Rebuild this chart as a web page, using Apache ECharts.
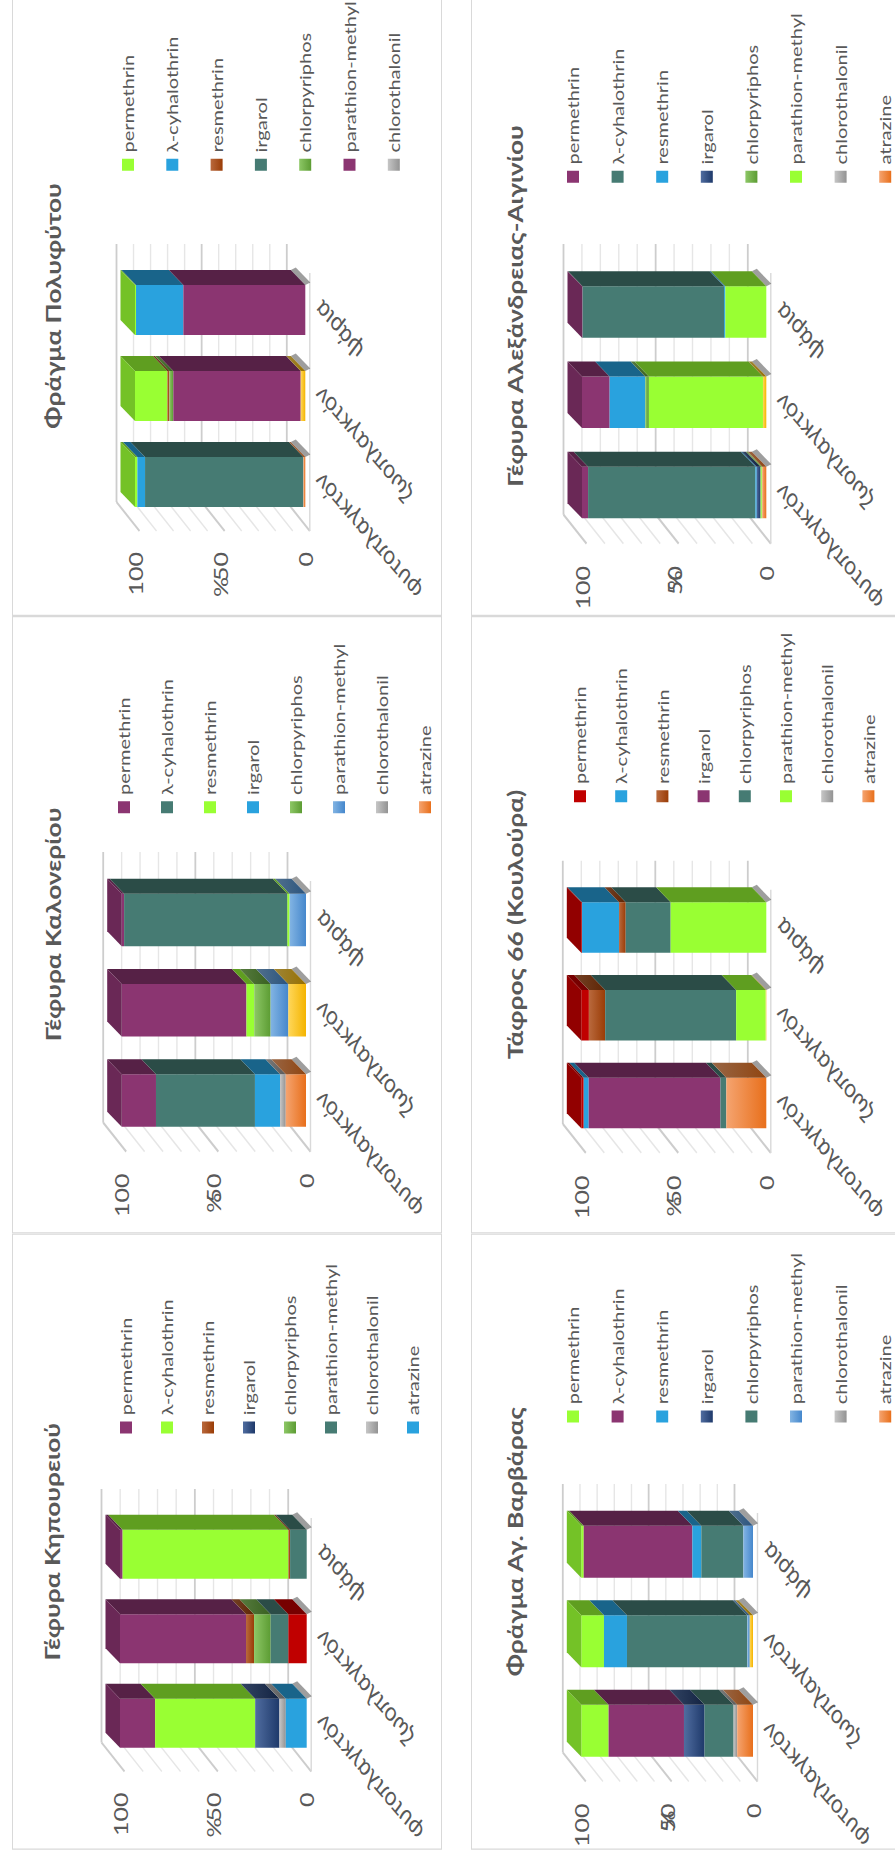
<!DOCTYPE html>
<html>
<head>
<meta charset="utf-8">
<script src="https://cdn.jsdelivr.net/npm/echarts@6.0.0/dist/echarts.min.js"></script>
<style>
  html, body { margin: 0; padding: 0; background: #fff; overflow: hidden; width: 895px; height: 1861px; }
  #sheet { position: absolute; left: 0; top: 0; height: 895px; transform-origin: 0 0; }
  .panel { position: absolute; box-sizing: border-box; border: 1px solid #d9d9d9; background: #fff; }
</style>
</head>
<body>
<div id="sheet"></div>
<script>
// ---- data -------------------------------------------------------------
const categories = ['φυτοπλαγκτόν', 'ζωοπλαγκτόν', 'ψάρια'];
const compounds = ['permethrin', 'λ-cyhalothrin', 'resmethrin', 'irgarol', 'chlorpyriphos',
                   'parathion-methyl', 'chlorothalonil', 'atrazine'];
const unlisted = 'other';
const valueTicks = [0, 50, 100];
const gridValues = [0, 10, 20, 30, 40, 50, 60, 70, 80, 90, 100];
const titles = ['Γέφυρα Κηπουρειού', 'Γέφυρα Καλονερίου', 'Φράγμα Πολυφύτου',
                'Φράγμα Αγ. Βαρβάρας', 'Τάφρος 66 (Κουλούρα)', 'Γέφυρα Αλεξάνδρειας-Αιγινίου'];

// shares (%) per compound; columns follow `categories`; last row is the unlisted compound
const kipoureiou = [
  [18.8, 67.5, 1.4], [53.6, 0, 88.8], [0, 4.3, 0.9], [13.0, 0, 0], [0, 8.9, 0],
  [0, 9.5, 8.9], [3.4, 0, 0], [11.2, 0, 0], [0, 9.8, 0]
];
const kalonerio = [
  [18.6, 67.7, 1.3], [53.7, 0, 88.6], [0, 4.2, 1.2], [13.6, 0, 0], [0, 8.9, 0],
  [0, 9.6, 8.9], [3.1, 0, 0], [11.0, 0, 0], [0, 9.6, 0]
];
const polyfyto = [
  [1.4, 19.0, 0.6], [4.5, 0, 27.8], [0, 1.2, 0], [93.0, 0, 0], [0, 2.3, 0],
  [0, 74.8, 71.6], [0, 0, 0], [1.1, 0, 0], [0, 2.7, 0]
];
const agBarbara = [
  [15.9, 13.2, 1.4], [43.9, 0, 63.3], [0, 13.4, 5.2], [12.0, 0, 0], [16.9, 70.1, 24.5],
  [0, 1.4, 5.6], [2.1, 0, 0], [9.2, 0, 0], [0, 1.9, 0]
];
const tafros66 = [
  [1.3, 4.1, 0.4], [2.7, 0, 20.0], [0, 8.8, 3.6], [71.2, 0, 0], [3.2, 70.8, 24.3],
  [0, 16.0, 51.7], [0, 0, 0], [21.6, 0, 0], [0, 0.3, 0]
];
const aleksandreia = [
  [3.3, 15.0, 0.3], [90.8, 0, 76.8], [0.7, 19.3, 0.7], [2.0, 0, 0], [0.5, 2.0, 0],
  [0.5, 61.9, 22.2], [0, 0, 0], [2.2, 0, 0], [0, 1.8, 0]
];
const panelValues = [kipoureiou, kalonerio, polyfyto, agBarbara, tafros66, aleksandreia];

// ---- styles -----------------------------------------------------------
const K = 1.25;                       // horizontal stretch of the whole sheet
const FONT = "Lato, 'Open Sans', 'Noto Sans', sans-serif";
const TEXT = '#595959';
const DEPTH = { x: 15, y: -14.5 };    // bar depth (oblique projection)
const WALL = { x: 23, y: -18.5 };     // back wall offset from bar fronts
const FRONT = { x: -6, y: 4.5 };      // floor / side-wall front edge offset
const CAT_SHIFT = 4;                  // category label anchor: right of the bar centre
const CAT_DROP = 12;                  // ... and below the floor
const CAT_ROTATE = 47;
const CAT_SIZE = 21;

const palette = {
  magenta: '#8B3571', lime: '#99FF33', teal: '#467B73', blue: '#29A2DE', red: '#C00000',
  brown: ['#B9693D', '#9A3C06'], navy: ['#506DA0', '#1E396A'], green: ['#8DC766', '#5C9C33'],
  gray: ['#C6C6C6', '#939393'], orange: ['#F5A470', '#E86F1B'], yellow: ['#FFD75A', '#F4B400'],
  skyblue: ['#82B4E3', '#4587CC']
};
const panelColors = [
  ['magenta', 'lime', 'brown', 'navy', 'green', 'teal', 'gray', 'blue', 'red'],
  ['magenta', 'teal', 'lime', 'blue', 'green', 'skyblue', 'gray', 'orange', 'yellow'],
  ['lime', 'blue', 'brown', 'teal', 'green', 'magenta', 'gray', 'orange', 'yellow'],
  ['lime', 'magenta', 'blue', 'navy', 'teal', 'skyblue', 'gray', 'orange', 'yellow'],
  ['red', 'blue', 'brown', 'magenta', 'teal', 'lime', 'gray', 'orange', 'yellow'],
  ['magenta', 'teal', 'blue', 'navy', 'green', 'lime', 'gray', 'orange', 'yellow']
];

// panel geometry in sheet pixels (x along the category direction)
const panelLayout = [
  { x0: 11,   y0: 12,  w: 616, c0: 126.5, step: 84.5,  bw: 49,   y100: 108,   yZero: 294.7, legX: 410, legY: 103, legStep: 41,   titleY: 35.5, labelGap: 27,   pctGap: 62 },
  { x0: 627,  y0: 12,  w: 618, c0: 133,   step: 90.25, bw: 52.5, y100: 109.7, yZero: 294,   legX: 414, legY: 101, legStep: 43,   titleY: 36.5, labelGap: 28,   pctGap: 57 },
  { x0: 1245, y0: 12,  w: 620, c0: 134,   step: 86,    bw: 50,   y100: 123,   yZero: 293.3, legX: 439, legY: 105, legStep: 44.3, titleY: 36.5, labelGap: 27,   pctGap: 62 },
  { x0: 11,   y0: 471, w: 616, c0: 119,   step: 89.5,  bw: 52,   y100: 110.3, yZero: 282,   legX: 421, legY: 91,  legStep: 44.6, titleY: 38.7, labelGap: 28,   pctGap: 45 },
  { x0: 627,  y0: 471, w: 618, c0: 130.5, step: 87.75, bw: 50.5, y100: 110.3, yZero: 295.3, legX: 425, legY: 98,  legStep: 41.2, titleY: 39,   labelGap: 28.6, pctGap: 59.6 },
  { x0: 1245, y0: 471, w: 620, c0: 123.5, step: 90.25, bw: 51.5, y100: 111,   yZero: 295.3, legX: 427, legY: 91,  legStep: 44.6, titleY: 39,   labelGap: 28.5, pctGap: 42.5 }
];
const PANEL_H = 430;

// ---- helpers ----------------------------------------------------------
function shade(hex, f) {
  const n = parseInt(hex.slice(1), 16);
  const r = Math.round(((n >> 16) & 255) * f), g = Math.round(((n >> 8) & 255) * f), b = Math.round((n & 255) * f);
  return '#' + ((1 << 24) + (r << 16) + (g << 8) + b).toString(16).slice(1);
}
function paint(key, f) {
  const c = palette[key];
  if (Array.isArray(c)) {
    return { type: 'linear', x: 0, y: 0, x2: 0, y2: 1,
             colorStops: [{ offset: 0, color: shade(c[0], f) }, { offset: 1, color: shade(c[1], f) }] };
  }
  return shade(c, f);
}

// stacking from the floor upwards: unlisted, atrazine, ..., permethrin
const stackOrder = [8, 7, 6, 5, 4, 3, 2, 1, 0];

function buildSegments(values) {
  const segs = values.map(() => []);
  categories.forEach((_, i) => {
    const total = values.reduce((s, row) => s + row[i], 0);
    let cum = 0, last = null, first = true;
    stackOrder.forEach(r => {
      const v = values[r][i];
      if (v <= 0) return;
      const item = [i, cum / total * 100, (cum + v) / total * 100, first ? 2 : 0];
      segs[r].push(item);
      last = item; first = false;
      cum += v;
    });
    if (last) last[3] |= 1;
  });
  return segs;
}

function wallRenderer() {
  return function (params, api) {
    const v = api.value(1);
    const pa = api.coord([0, v]);
    const pb = api.coord([2, v]);
    const band = api.size([1, 0])[0];
    const xs = pa[0] - band / 2, xe = pb[0] + band / 2, y = pa[1];
    const major = v % 50 === 0;
    const style = { stroke: major ? '#cdcdcd' : '#e6e6e6', lineWidth: major ? 1.8 : 1.4, fill: null };
    const wx = WALL.x / K, wy = WALL.y, fx = FRONT.x / K, fy = FRONT.y;
    const children = [
      { type: 'line', shape: { x1: xs + wx, y1: y + wy, x2: xe + wx, y2: y + wy }, style },
      { type: 'line', shape: { x1: xs + wx, y1: y + wy, x2: xs + fx, y2: y + fy }, style }
    ];
    if (v === 0) {
      children.push({ type: 'line', shape: { x1: xs + fx, y1: y + fy, x2: xe + fx, y2: y + fy },
                      style: { stroke: '#d9d9d9', lineWidth: 1.4, fill: null } });
    }
    return { type: 'group', children };
  };
}

function barRenderer(key, ratio) {
  const front = paint(key, 1), side = paint(key, 0.62), top = paint(key, 0.76);
  return function (params, api) {
    const cat = api.value(0), lo = api.value(1), hi = api.value(2), flags = api.value(3);
    const pLo = api.coord([cat, lo]);
    const pHi = api.coord([cat, hi]);
    const w = api.size([1, 0])[0] * ratio;
    const xl = pLo[0] - w / 2, xr = pLo[0] + w / 2;
    const yb = pLo[1], yt = pHi[1];
    const dx = DEPTH.x / K, dy = DEPTH.y;
    const children = [];
    if (flags & 2) {
      children.push({ type: 'polygon', shape: { points: [[xr, yb], [xr + dx, yb + dy], [xr + dx + 2, yb + dy + 5], [xr + 2, yb + 5]] },
                      style: { fill: 'rgba(40,40,40,0.45)' } });
    }
    children.push({ type: 'rect', shape: { x: xl, y: yt, width: w, height: Math.max(yb - yt, 0.3) }, style: { fill: front } });
    children.push({ type: 'polygon', shape: { points: [[xr, yt], [xr + dx, yt + dy], [xr + dx, yb + dy], [xr, yb]] }, style: { fill: side } });
    if (flags & 1) {
      children.push({ type: 'polygon', shape: { points: [[xl, yt], [xl + dx, yt + dy], [xr + dx, yt + dy], [xr, yt]] }, style: { fill: top } });
    }
    return { type: 'group', children };
  };
}

// category names, slanted below the floor at each category position
function categoryLabelRenderer() {
  return function (params, api) {
    const i = api.value(0);
    const p = api.coord([i, 0]);
    return {
      type: 'text', x: p[0] + CAT_SHIFT / K, y: p[1] + CAT_DROP, rotation: CAT_ROTATE * Math.PI / 180,
      style: { text: categories[i], fill: TEXT, fontFamily: FONT, fontSize: CAT_SIZE,
               align: 'right', verticalAlign: 'middle' }
    };
  };
}

// ---- build ------------------------------------------------------------
const sheet = document.getElementById('sheet');
const SHEET_W = 1861 / K;
sheet.style.width = SHEET_W + 'px';
sheet.style.transform = 'translate(0px, 1861px) rotate(-90deg) scale(' + K + ', 1)';

panelLayout.forEach((L, p) => {
  const div = document.createElement('div');
  div.className = 'panel';
  const w = L.w / K;
  div.style.left = (L.x0 / K) + 'px';
  div.style.top = L.y0 + 'px';
  div.style.width = w + 'px';
  div.style.height = PANEL_H + 'px';
  sheet.appendChild(div);

  const chart = echarts.init(div, null, { renderer: 'svg', width: w - 2, height: PANEL_H - 2 });
  const values = panelValues[p];
  const colors = panelColors[p];
  const segs = buildSegments(values);
  const ratio = L.bw / L.step;
  const gridLeft = (L.c0 - L.step / 2) / K - 1;

  const series = [{
    type: 'custom', name: 'walls', coordinateSystem: 'cartesian2d', silent: true, z: 1,
    renderItem: wallRenderer(), data: gridValues.map(v => [0, v])
  }];
  values.forEach((row, r) => {
    series.push({
      type: 'custom', name: r < compounds.length ? compounds[r] : unlisted,
      coordinateSystem: 'cartesian2d', silent: true, z: 2,
      itemStyle: { color: paint(colors[r], 1) },
      renderItem: barRenderer(colors[r], ratio),
      data: segs[r]
    });
  });
  series.push({
    type: 'custom', name: 'categoryLabels', coordinateSystem: 'cartesian2d', silent: true, z: 3,
    renderItem: categoryLabelRenderer(), data: categories.map((c, i) => [i, 0])
  });

  chart.setOption({
    animation: false,
    title: {
      text: titles[p], left: 'center', top: L.titleY - 11 - 1,
      textStyle: { fontFamily: FONT, fontSize: 21, fontWeight: 'bold', color: TEXT, lineHeight: 22 }
    },
    legend: {
      orient: 'vertical', left: L.legX / K - 1, top: L.legY - 2 - 1,
      data: compounds, icon: 'rect', selectedMode: false,
      itemWidth: 12 / K, itemHeight: 12, itemGap: L.legStep - 16,
      textStyle: { fontFamily: FONT, fontSize: 16, lineHeight: 16, color: TEXT }
    },
    grid: {
      left: gridLeft, top: L.y100 - 1, width: 3 * L.step / K, height: L.yZero - L.y100,
      containLabel: false, outerBoundsMode: 'none'
    },
    xAxis: {
      type: 'category', data: categories, boundaryGap: true,
      axisLine: { show: false }, axisTick: { show: false }, splitLine: { show: false },
      axisLabel: { show: false }
    },
    yAxis: {
      type: 'value', min: 0, max: 100, interval: 50,
      axisLine: { show: false }, axisTick: { show: false }, splitLine: { show: false },
      axisLabel: {
        margin: L.labelGap / K, fontFamily: FONT, fontSize: 20, color: TEXT, padding: [12, 0, 0, 0],
        formatter: v => (valueTicks.indexOf(v) >= 0 ? String(v) : '')
      },
      name: '%', nameLocation: 'middle', nameRotate: 0, nameGap: L.pctGap / K, nameMoveOverlap: false,
      nameTextStyle: { fontFamily: FONT, fontSize: 20, color: TEXT, align: 'center', verticalAlign: 'middle', padding: [12, 0, 0, 0] }
    },
    series
  });
});
</script>
</body>
</html>
